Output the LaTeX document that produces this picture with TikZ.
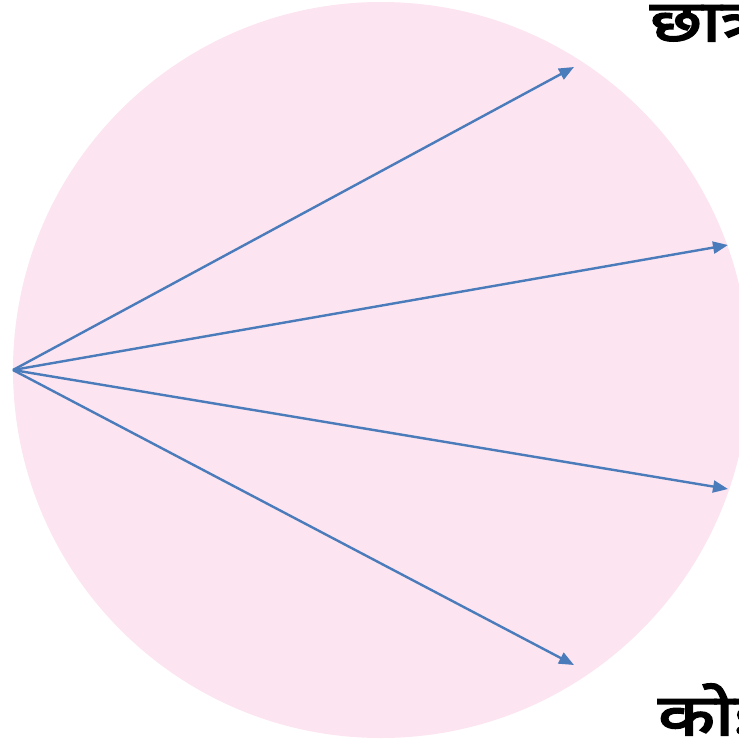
\documentclass[tikz,border=0pt]{standalone}
\usepackage{fontspec}
\newfontfamily\deva[Script=Devanagari,FakeBold=3.5,FakeStretch=1.3]{Noto Sans}
\usetikzlibrary{arrows.meta}
\definecolor{circpink}{HTML}{FCE4F0}
\definecolor{arrblue}{HTML}{4A7BBA}
\tikzset{
  spoke/.style={draw=arrblue, line width=2.4pt, -{Triangle[length=15pt,width=12pt]}},
  lbl/.style={font=\deva\fontsize{57}{60}\selectfont, inner sep=0pt, anchor=base west}
}
\begin{document}
\begin{tikzpicture}[x=1pt,y=-1pt]
\useasboundingbox (0,0) rectangle (739,742);
\clip (0,0) rectangle (739,742);
\fill[circpink] (381,370) circle[radius=368];
\coordinate (o) at (13,370);
\coordinate (t1) at (574,67);
\coordinate (t2) at (728,245);
\coordinate (t3) at (728,489);
\coordinate (t4) at (574,665);
\foreach \t in {t1,t2,t3,t4} \draw[spoke] (o) -- (\t);
\node[lbl] (top) at (650,41) {छात्र};
\node[lbl] (bot) at (658,735) {कोई};
\end{tikzpicture}
\end{document}
